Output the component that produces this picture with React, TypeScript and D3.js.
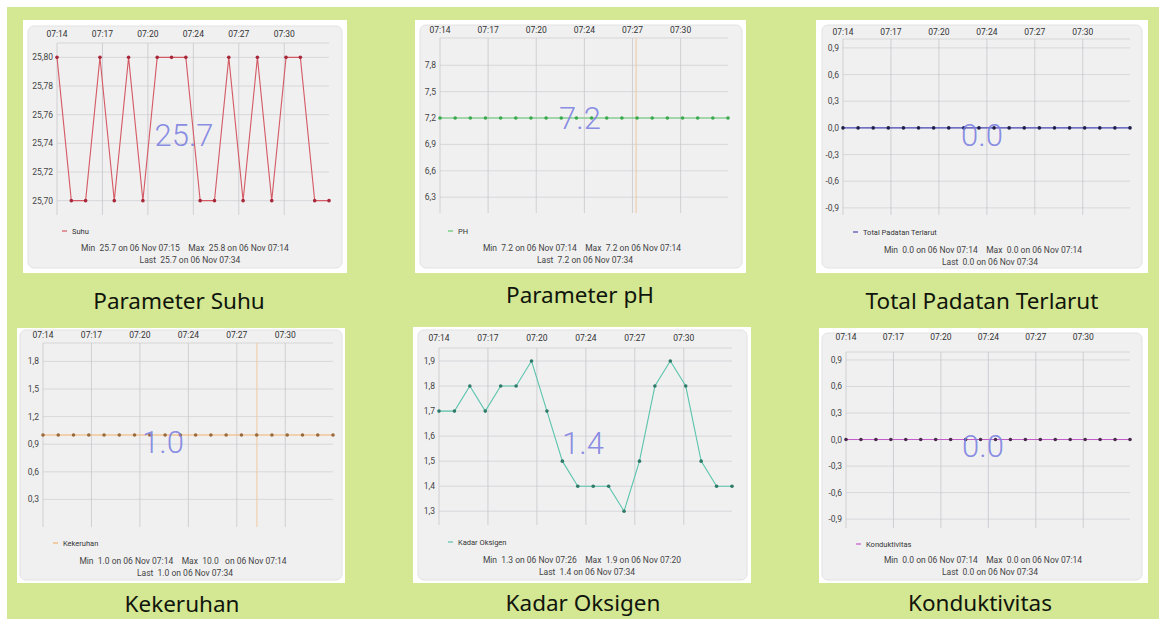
import * as d3 from "d3";

// sample timestamps (HH:MM:SS), one reading every ~63 s
const sampleTimes = [
  "07:14:00", "07:15:03", "07:16:06", "07:17:09", "07:18:12",
  "07:19:15", "07:20:18", "07:21:21", "07:22:24", "07:23:27",
  "07:24:30", "07:25:33", "07:26:36", "07:27:39", "07:28:42",
  "07:29:45", "07:30:48", "07:31:51", "07:32:54", "07:33:57",
];
const tickTimes = ["07:14:00", "07:17:20", "07:20:40", "07:24:00", "07:27:20", "07:30:40"];
const tickLabels = ["07:14", "07:17", "07:20", "07:24", "07:27", "07:30"];

const suhu = [25.8, 25.7, 25.7, 25.8, 25.7, 25.8, 25.7, 25.8, 25.8, 25.8, 25.7, 25.7, 25.8, 25.7, 25.8, 25.7, 25.8, 25.8, 25.7, 25.7];
const ph = [7.2, 7.2, 7.2, 7.2, 7.2, 7.2, 7.2, 7.2, 7.2, 7.2, 7.2, 7.2, 7.2, 7.2, 7.2, 7.2, 7.2, 7.2, 7.2, 7.2];
const tds = [0, 0, 0, 0, 0, 0, 0, 0, 0, 0, 0, 0, 0, 0, 0, 0, 0, 0, 0, 0];
const kekeruhan = [1, 1, 1, 1, 1, 1, 1, 1, 1, 1, 1, 1, 1, 1, 1, 1, 1, 1, 1, 1];
const oksigen = [1.7, 1.7, 1.8, 1.7, 1.8, 1.8, 1.9, 1.7, 1.5, 1.4, 1.4, 1.4, 1.3, 1.5, 1.8, 1.9, 1.8, 1.5, 1.4, 1.4];
const konduktivitas = [0, 0, 0, 0, 0, 0, 0, 0, 0, 0, 0, 0, 0, 0, 0, 0, 0, 0, 0, 0];

const suhuTicks = [25.7, 25.72, 25.74, 25.76, 25.78, 25.8];
const phTicks = [6.3, 6.6, 6.9, 7.2, 7.5, 7.8];
const zeroTicks = [-0.9, -0.6, -0.3, 0, 0.3, 0.6, 0.9];
const kekeruhanTicks = [0.3, 0.6, 0.9, 1.2, 1.5, 1.8];
const oksigenTicks = [1.3, 1.4, 1.5, 1.6, 1.7, 1.8, 1.9];

const toSec = (t: string) => {
  const [h, m, s] = t.split(":").map(Number);
  return (h - 7) * 3600 + (m - 14) * 60 + s;
};

type PanelCfg = {
  series: number[];
  name: string;
  caption: string;
  big: string;
  minMax: string;
  last: string;
  ticks: number[];
  decimals: number;
  domain: [number, number];
  line: string;
  dot: string;
  cursor?: string;
  frame: [number, number, number, number];
  card: [number, number, number, number];
  px: [number, number];
  py: [number, number];
  xLabelY: number;
  legend: [number, number];
  statsX: number;
  statsY: number;
  lastX: number;
  bigPos: [number, number];
  capPos: [number, number];
};

const panels: PanelCfg[] = [
  {
    series: suhu, name: "Suhu", caption: "Parameter Suhu", big: "25.7",
    minMax: "Min  25.7 on 06 Nov 07:15    Max  25.8 on 06 Nov 07:14", last: "Last  25.7 on 06 Nov 07:34",
    ticks: suhuTicks, decimals: 2, domain: [25.69, 25.81], line: "#d45a64", dot: "#a8283a",
    frame: [23, 20, 347, 273], card: [28, 26, 342, 268], px: [57, 329], py: [43, 215], xLabelY: 37,
    legend: [62, 231], statsX: 185, statsY: 248, lastX: 190, bigPos: [184, 146], capPos: [179, 301],
  },
  {
    series: ph, name: "PH", caption: "Parameter pH", big: "7.2",
    minMax: "Min  7.2 on 06 Nov 07:14    Max  7.2 on 06 Nov 07:14", last: "Last  7.2 on 06 Nov 07:34",
    ticks: phTicks, decimals: 1, domain: [6.12, 8.11], line: "#62c870", dot: "#3aa84c", cursor: "07:27:35",
    frame: [415, 20, 746, 273], card: [420, 25, 742, 268], px: [440, 728], py: [38, 213], xLabelY: 33,
    legend: [448, 231], statsX: 582, statsY: 248, lastX: 585, bigPos: [580, 129], capPos: [580, 295],
  },
  {
    series: tds, name: "Total Padatan Terlarut", caption: "Total Padatan Terlarut", big: "0.0",
    minMax: "Min  0.0 on 06 Nov 07:14    Max  0.0 on 06 Nov 07:14", last: "Last  0.0 on 06 Nov 07:34",
    ticks: zeroTicks, decimals: 1, domain: [-0.98, 1.0], line: "#4a48b8", dot: "#202048",
    frame: [816, 20, 1148, 273], card: [822, 25, 1142, 268], px: [843, 1130], py: [39, 215], xLabelY: 35,
    legend: [853, 232], statsX: 983, statsY: 250, lastX: 990, bigPos: [982, 146], capPos: [982, 301],
  },
  {
    series: kekeruhan, name: "Kekeruhan", caption: "Kekeruhan", big: "1.0",
    minMax: "Min  1.0 on 06 Nov 07:14    Max  10.0   on 06 Nov 07:14", last: "Last  1.0 on 06 Nov 07:34",
    ticks: kekeruhanTicks, decimals: 1, domain: [0, 2], line: "#f2b070", dot: "#9a6a3a", cursor: "07:28:43",
    frame: [17, 328, 345, 583], card: [20, 330, 342, 580], px: [43, 333], py: [343, 527], xLabelY: 338,
    legend: [53, 543], statsX: 183, statsY: 561, lastX: 185, bigPos: [163, 453], capPos: [182, 604],
  },
  {
    series: oksigen, name: "Kadar Oksigen", caption: "Kadar Oksigen", big: "1.4",
    minMax: "Min  1.3 on 06 Nov 07:26    Max  1.9 on 06 Nov 07:20", last: "Last  1.4 on 06 Nov 07:34",
    ticks: oksigenTicks, decimals: 1, domain: [1.245, 1.952], line: "#5cc4ac", dot: "#2e7a68",
    frame: [413, 327, 751, 583], card: [418, 330, 747, 580], px: [439, 732], py: [348, 525], xLabelY: 341,
    legend: [448, 542], statsX: 582, statsY: 560, lastX: 587, bigPos: [583, 454], capPos: [583, 603],
  },
  {
    series: konduktivitas, name: "Konduktivitas", caption: "Konduktivitas", big: "0.0",
    minMax: "Min  0.0 on 06 Nov 07:14    Max  0.0 on 06 Nov 07:14", last: "Last  0.0 on 06 Nov 07:34",
    ticks: zeroTicks, decimals: 1, domain: [-1.0, 0.99], line: "#c45ccc", dot: "#4a2a4a",
    frame: [819, 328, 1148, 583], card: [822, 333, 1142, 580], px: [846, 1130], py: [352, 528], xLabelY: 340,
    legend: [856, 544], statsX: 983, statsY: 560, lastX: 990, bigPos: [983, 457], capPos: [980, 603],
  },
];

const smallFont = "Roboto, 'DejaVu Sans', sans-serif";

function Panel({ p }: { p: PanelCfg }) {
  const times = sampleTimes.map(toSec);
  const x = d3.scaleLinear().domain([times[0], times[times.length - 1]]).range(p.px);
  const y = d3.scaleLinear().domain(p.domain).range([p.py[1], p.py[0]]);
  const pts = p.series.map((v, i) => [x(times[i]), y(v)] as [number, number]);
  const path = d3.line()(pts) ?? "";
  const fmt = (v: number) => v.toFixed(p.decimals).replace(".", ",");
  const [fx0, fy0, fx1, fy1] = p.frame;
  const [cx0, cy0, cx1, cy1] = p.card;
  return (
    <g>
      <rect x={fx0} y={fy0} width={fx1 - fx0} height={fy1 - fy0} fill="#ffffff" />
      <rect x={cx0} y={cy0} width={cx1 - cx0} height={cy1 - cy0} rx={6} fill="#f0f0f1" stroke="#e2e2e4" />
      {/* top border of plot */}
      <line x1={p.px[0]} x2={p.px[1]} y1={p.py[0]} y2={p.py[0]} stroke="#cfcfd2" strokeWidth={0.8} />
      {p.ticks.map((t) => (
        <g key={t}>
          <line x1={p.px[0]} x2={p.px[1]} y1={y(t)} y2={y(t)} stroke="#d2d2d5" strokeWidth={0.8} />
          <text x={p.px[0] - 4} y={y(t)} dy="0.35em" textAnchor="end" fontSize={8.5} fill="#444" fontFamily={smallFont}>
            {fmt(t)}
          </text>
        </g>
      ))}
      {tickTimes.map((t, i) => (
        <g key={t}>
          <line x1={x(toSec(t))} x2={x(toSec(t))} y1={p.py[0]} y2={p.py[1]} stroke="#c8c8cc" strokeWidth={0.8} />
          <text x={x(toSec(t))} y={p.xLabelY} textAnchor="middle" fontSize={8.5} fill="#333" fontFamily={smallFont}>
            {tickLabels[i]}
          </text>
        </g>
      ))}
      {p.cursor && (
        <line x1={x(toSec(p.cursor))} x2={x(toSec(p.cursor))} y1={p.py[0]} y2={p.py[1]} stroke="#f0c8a0" strokeWidth={1} />
      )}
      <path d={path} fill="none" stroke={p.line} strokeWidth={1.1} />
      {pts.map(([cx, cy], i) => (
        <circle key={i} cx={cx} cy={cy} r={1.8} fill={p.dot} />
      ))}
      <text x={p.bigPos[0]} y={p.bigPos[1]} textAnchor="middle" fontSize={31} fontWeight={300} fill="#7c80e0" fillOpacity={0.9} fontFamily={smallFont}>
        {p.big}
      </text>
      <line x1={p.legend[0]} x2={p.legend[0] + 5} y1={p.legend[1]} y2={p.legend[1]} stroke={p.line} strokeWidth={1.2} />
      <text x={p.legend[0] + 10} y={p.legend[1]} dy="0.35em" fontSize={7.5} fill="#333" fontFamily={smallFont}>
        {p.name}
      </text>
      <text x={p.statsX} y={p.statsY} dy="0.35em" textAnchor="middle" fontSize={8.5} fill="#444" fontFamily={smallFont} xmlSpace="preserve">
        {p.minMax}
      </text>
      <text x={p.lastX} y={p.statsY + 12.5} dy="0.35em" textAnchor="middle" fontSize={8.5} fill="#444" fontFamily={smallFont} xmlSpace="preserve">
        {p.last}
      </text>
      <text x={p.capPos[0]} y={p.capPos[1]} dy="0.35em" textAnchor="middle" fontSize={22.5} fill="#10150c" fontFamily="'Noto Sans', Lato, sans-serif">
        {p.caption}
      </text>
    </g>
  );
}

export default function App() {
  return (
    <svg width={1159} height={619} style={{ position: "absolute", left: 0, top: 0 }}>
      <rect width={1159} height={619} fill="#ffffff" />
      <rect x={7} y={7} width={1152} height={612} fill="#d4e793" />
      {panels.map((p) => (
        <Panel key={p.caption} p={p} />
      ))}
    </svg>
  );
}
